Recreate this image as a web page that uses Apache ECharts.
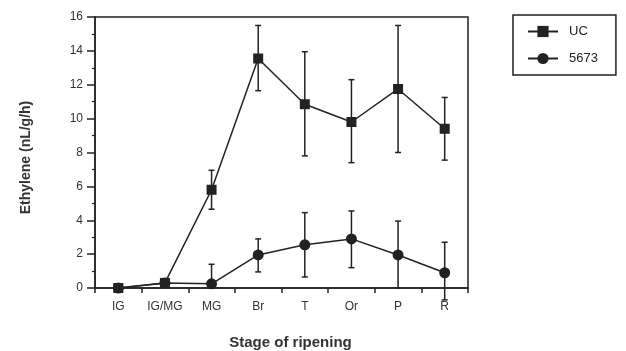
<!DOCTYPE html>
<html>
<head>
<meta charset="utf-8">
<script src="https://cdn.jsdelivr.net/npm/echarts@6/dist/echarts.min.js"></script>
<style>html,body{margin:0;padding:0;background:#fff;}#c{width:626px;height:351px;}</style>
</head>
<body>
<div id="c"></div>
<script>
var categories = ['IG', 'IG/MG', 'MG', 'Br', 'T', 'Or', 'P', 'R'];
var ucMean   = [0, 0.3, 5.8, 13.55, 10.85, 9.8, 11.75, 9.4];
var ucLow    = [null, null, 4.65, 11.65, 7.8, 7.4, 8.0, 7.55];
var ucHigh   = [null, null, 6.95, 15.5, 13.95, 12.3, 15.5, 11.25];
var m5673Mean = [0, 0.3, 0.25, 1.95, 2.55, 2.9, 1.95, 0.9];
var m5673Low  = [null, null, 0, 0.95, 0.65, 1.2, 0, -0.7];
var m5673High = [null, null, 1.4, 2.9, 4.45, 4.55, 3.95, 2.7];
var yTicks = { min: 0, max: 16, interval: 2 };

var ink = '#222';
function errData(low, high) {
  var out = [];
  for (var i = 0; i < categories.length; i++) {
    if (low[i] !== null && high[i] !== null) out.push([i, low[i], high[i]]);
  }
  return out;
}
function renderErr(params, api) {
  var x = api.value(0);
  var lo = api.coord([x, api.value(1)]);
  var hi = api.coord([x, api.value(2)]);
  var w = 3;
  var st = { stroke: ink, lineWidth: 1.5 };
  return {
    type: 'group',
    children: [
      { type: 'line', shape: { x1: lo[0], y1: lo[1], x2: hi[0], y2: hi[1] }, style: st },
      { type: 'line', shape: { x1: hi[0] - w, y1: hi[1], x2: hi[0] + w, y2: hi[1] }, style: st },
      { type: 'line', shape: { x1: lo[0] - w, y1: lo[1], x2: lo[0] + w, y2: lo[1] }, style: st }
    ]
  };
}

var chart = echarts.init(document.getElementById('c'), null, { renderer: 'canvas' });
chart.setOption({
  backgroundColor: '#fff',
  animation: false,
  grid: { left: 95, right: 158, top: 17, bottom: 63, containLabel: false, outerBoundsMode: 'none', show: true, borderColor: ink, borderWidth: 1.5, backgroundColor: 'transparent' },
  legend: {
    orient: 'vertical', left: 513, top: 15,
    borderColor: ink, borderWidth: 1.5, padding: [10, 18, 10, 14],
    itemWidth: 30, itemHeight: 14, itemGap: 14,
    textStyle: { color: ink, fontSize: 13, fontFamily: 'Liberation Sans, Arial, sans-serif', padding: [0, 0, 0, 6] },
    data: ['UC', '5673']
  },
  xAxis: {
    type: 'category', data: categories, boundaryGap: true,
    axisLine: { lineStyle: { color: ink, width: 1.5 } },
    axisTick: { show: true, alignWithLabel: false, length: 5, lineStyle: { color: ink, width: 1.5 } },
    axisLabel: { color: '#333', fontSize: 12, margin: 13, fontFamily: 'Liberation Sans, Arial, sans-serif', interval: 0 },
    splitLine: { show: false },
    name: 'Stage of ripening', nameLocation: 'middle', nameGap: 47,
    nameTextStyle: { color: '#333', fontSize: 15, fontWeight: 'bold', fontFamily: 'Liberation Sans, Arial, sans-serif', padding: [0, 0, 0, 18] }
  },
  yAxis: {
    type: 'value', min: yTicks.min, max: yTicks.max, interval: yTicks.interval,
    axisLine: { show: true, lineStyle: { color: ink, width: 1.5 } },
    axisTick: { show: true, length: 8, lineStyle: { color: ink, width: 1.5 } },
    minorTick: { show: true, splitNumber: 2, length: 3, lineStyle: { color: ink, width: 1.2 } },
    axisLabel: { color: '#333', fontSize: 12, margin: 12, fontFamily: 'Liberation Sans, Arial, sans-serif' },
    splitLine: { show: false },
    name: 'Ethylene (nL/g/h)', nameLocation: 'middle', nameGap: 62, nameRotate: 90,
    nameTextStyle: { color: '#333', fontSize: 14, fontWeight: 'bold', fontFamily: 'Liberation Sans, Arial, sans-serif', padding: [0, 10, 0, 0] }
  },
  series: [
    {
      name: 'UC', type: 'line', data: ucMean, symbol: 'rect', symbolSize: 10,
      lineStyle: { color: ink, width: 1.5 }, itemStyle: { color: ink }, z: 3, clip: false
    },
    {
      name: '5673', type: 'line', data: m5673Mean, symbol: 'circle', symbolSize: 11,
      lineStyle: { color: ink, width: 1.5 }, itemStyle: { color: ink }, z: 3, clip: false
    },
    { type: 'custom', name: 'ucErr', data: errData(ucLow, ucHigh), renderItem: renderErr, clip: false, z: 2 },
    { type: 'custom', name: 'm5673Err', data: errData(m5673Low, m5673High), renderItem: renderErr, clip: false, z: 2 }
  ]
});
</script>
</body>
</html>
